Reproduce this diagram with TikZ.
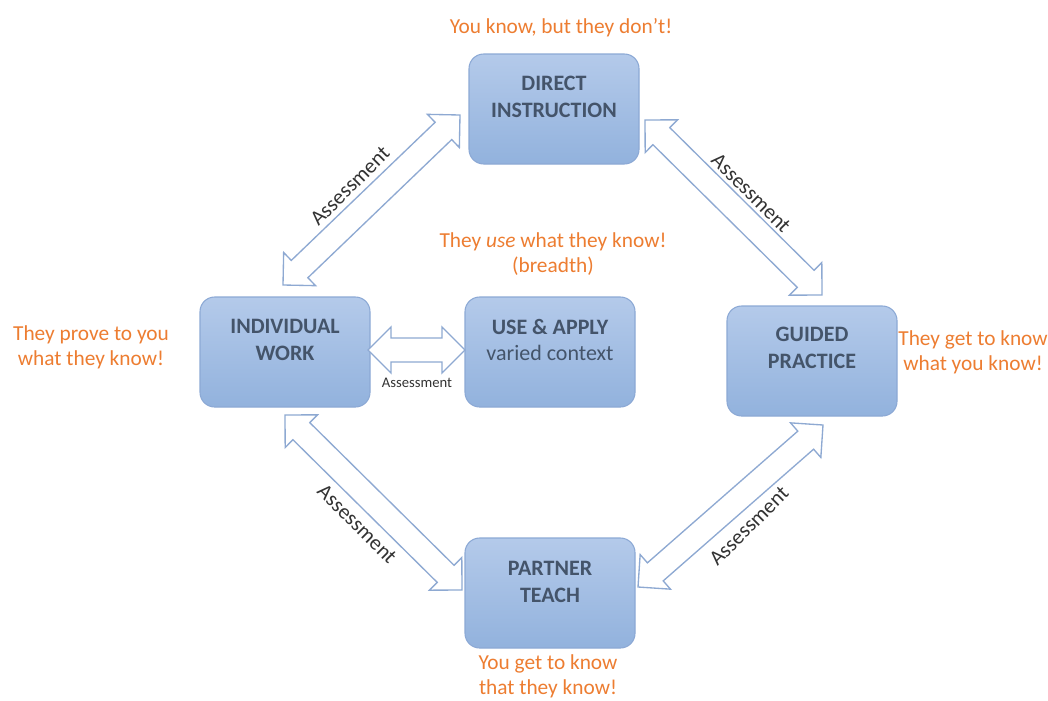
\documentclass[tikz,border=0pt]{standalone}
\usepackage{fontspec}
\setmainfont{Carlito}
\usetikzlibrary{calc}
\definecolor{orangeT}{HTML}{ED7D31}
\definecolor{boxT}{HTML}{44546A}
\definecolor{boxTop}{HTML}{B4CAEA}
\definecolor{boxBot}{HTML}{92B2DD}
\definecolor{boxLine}{HTML}{8CA9D5}
\definecolor{arrLine}{HTML}{8EA9D2}
\definecolor{labT}{HTML}{333333}
\tikzset{
 stage/.style={rounded corners=11pt, draw=boxLine, line width=0.8pt, top color=boxTop, bottom color=boxBot, minimum width=127.5pt, minimum height=82.5pt},
 stagetext/.style={text=boxT, font=\fontsize{16.5}{20}\selectfont\bfseries, align=center, inner sep=0pt},
 note/.style={text=orangeT, font=\fontsize{16}{19}\selectfont, align=center, inner sep=0pt},
 blockarr/.style={draw=arrLine, fill=white, line width=1pt, line join=miter},
 asslab/.style={text=labT, font=\fontsize{16}{18}\selectfont, inner sep=0pt},
}
% hollow double block arrow from #1 to #2 (head length/half width 17.25pt, shaft half width 9pt)
\newcommand\myblockarrow[2]{%
 \path (#1); \pgfgetlastxy{\myax}{\myay}%
 \path (#2); \pgfgetlastxy{\mybx}{\myby}%
 \pgfmathsetmacro\myang{atan2(\myby-\myay,\mybx-\myax)}%
 \pgfmathsetmacro\mylen{veclen(\mybx-\myax,\myby-\myay)}%
 \pgfmathsetmacro\myhb{\mylen-17.25}%
 \begin{scope}[shift={(#1)}, rotate=\myang, x=1pt, y=1pt]
 \draw[blockarr] (0,0) -- (17.25,17.25) -- (17.25,9) -- (\myhb,9) -- (\myhb,17.25) -- (\mylen,0)
   -- (\myhb,-17.25) -- (\myhb,-9) -- (17.25,-9) -- (17.25,-17.25) -- cycle;
 \end{scope}}
\begin{document}
\begin{tikzpicture}[x=0.75pt, y=-0.75pt]
\useasboundingbox[fill=white] (0,0) rectangle (1048,700);
% boxes
\node[stage] (di) at (554,109) {};
\node[stage] (iw) at (285,352) {};
\node[stage] (ua) at (550,352) {};
\node[stage] (gp) at (812,361) {};
\node[stage] (pt) at (550,593) {};
\node[stagetext] (dit) at ($(di.center)+(0,-12)$) {DIRECT\\INSTRUCTION};
\node[stagetext] (iwt) at ($(iw.center)+(0,-12)$) {INDIVIDUAL\\WORK};
\node[stagetext] (uat) at ($(ua.center)+(0,-12)$) {USE \& APPLY\\{\mdseries varied context}};
\node[stagetext] (gpt) at ($(gp.center)+(0,-13)$) {GUIDED\\PRACTICE};
\node[stagetext] (ptt) at ($(pt.center)+(0,-11)$) {PARTNER\\TEACH};
% arrow end points
\coordinate (tlA) at (283,285);
\coordinate (tlB) at (460,115);
\coordinate (trA) at (645,120);
\coordinate (trB) at (822,295);
\coordinate (blA) at (285,415);
\coordinate (blB) at (462,590);
\coordinate (brA) at (638,587);
\coordinate (brB) at (823,425);
\coordinate (mA) at (368,350);
\coordinate (mB) at (465,350);
\myblockarrow{tlA}{tlB}
\myblockarrow{trA}{trB}
\myblockarrow{blA}{blB}
\myblockarrow{brA}{brB}
\myblockarrow{mA}{mB}
% assessment labels
\node[asslab, rotate=45] (l1) at (350,186) {Assessment};
\node[asslab, rotate=-45] (l2) at (751,193) {Assessment};
\node[asslab, rotate=-45] (l3) at (357,524) {Assessment};
\node[asslab, rotate=45] (l4) at (749,526) {Assessment};
\node[asslab, font=\fontsize{11}{13}\selectfont] (l5) at (417,383) {Assessment};
% notes
\node[note] (n1) at (561,28) {You know, but they don’t!};
\node[note] (n2) at (553,254) {They \textit{use} what they know!\\(breadth)};
\node[note] (n3) at (91,347) {They prove to you\\what they know!};
\node[note] (n4) at (973,352) {They get to know\\what you know!};
\node[note] (n5) at (548,676) {You get to know\\that they know!};
\end{tikzpicture}
\end{document}
